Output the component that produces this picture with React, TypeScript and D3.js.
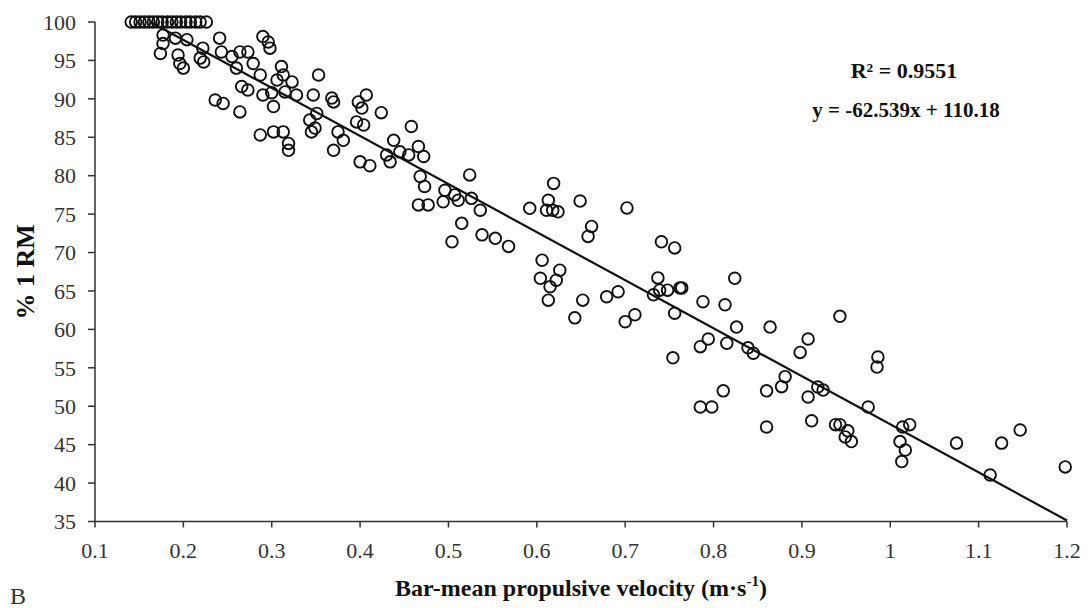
import React from "react";
import * as d3 from "d3";

// Bar-mean propulsive velocity (m/s) and %1RM
const topRowVelocity = [0.141, 0.146, 0.151, 0.156, 0.161, 0.166, 0.171, 0.176, 0.182, 0.187, 0.192, 0.197, 0.203, 0.208, 0.214, 0.219, 0.226];
const topRowPercent = topRowVelocity.map(() => 100);

const clusterVelocity = [0.177, 0.177, 0.191, 0.204, 0.174, 0.194, 0.196, 0.2, 0.222, 0.219, 0.223, 0.241, 0.243, 0.255, 0.26, 0.264, 0.273, 0.29, 0.296, 0.298, 0.279, 0.287, 0.266, 0.273, 0.29, 0.302, 0.311, 0.313, 0.306, 0.323, 0.315, 0.328, 0.347, 0.353, 0.368, 0.236, 0.245, 0.264, 0.3, 0.37, 0.398, 0.407, 0.402, 0.424, 0.343, 0.351, 0.349, 0.345, 0.287, 0.302, 0.313, 0.319, 0.319, 0.375, 0.381, 0.37, 0.396, 0.404, 0.4, 0.411, 0.458, 0.438, 0.43, 0.434, 0.445, 0.455, 0.466, 0.472];
const clusterPercent = [98.3, 97.2, 97.9, 97.7, 95.9, 95.7, 94.6, 94.0, 96.6, 95.3, 94.8, 97.9, 96.1, 95.5, 94.0, 96.1, 96.1, 98.1, 97.4, 96.6, 94.6, 93.1, 91.6, 91.15, 90.5, 89.0, 94.2, 93.1, 92.45, 92.2, 90.9, 90.5, 90.5, 93.1, 90.1, 89.85, 89.4, 88.3, 90.8, 89.6, 89.6, 90.5, 88.8, 88.2, 87.25, 88.1, 86.2, 85.7, 85.3, 85.7, 85.7, 84.2, 83.3, 85.7, 84.6, 83.3, 87.0, 86.6, 81.8, 81.3, 86.4, 84.6, 82.7, 81.8, 83.1, 82.7, 83.8, 82.5];

const midVelocity = [0.468, 0.473, 0.466, 0.477, 0.496, 0.507, 0.494, 0.511, 0.526, 0.536, 0.524, 0.515, 0.504, 0.538, 0.553, 0.568, 0.592, 0.619, 0.613, 0.611, 0.624, 0.618, 0.649, 0.702, 0.662, 0.658, 0.606, 0.626, 0.604, 0.622, 0.615, 0.613, 0.652, 0.679, 0.692, 0.643, 0.7, 0.711, 0.741, 0.756, 0.737, 0.739, 0.732, 0.748, 0.762, 0.764, 0.756, 0.754];
const midPercent = [79.9, 78.6, 76.2, 76.2, 78.1, 77.5, 76.6, 76.8, 77.05, 75.5, 80.1, 73.8, 71.4, 72.3, 71.85, 70.8, 75.75, 79.0, 76.8, 75.5, 75.3, 75.5, 76.7, 75.8, 73.4, 72.1, 69.0, 67.7, 66.65, 66.4, 65.55, 63.8, 63.8, 64.25, 64.9, 61.5, 61.0, 61.9, 71.4, 70.6, 66.7, 65.1, 64.5, 65.1, 65.4, 65.4, 62.1, 56.3];

const highVelocity = [0.824, 0.788, 0.813, 0.826, 0.864, 0.794, 0.785, 0.815, 0.839, 0.845, 0.943, 0.907, 0.898, 0.986, 0.985, 0.881, 0.877, 0.811, 0.798, 0.785, 0.86, 0.918, 0.924, 0.907, 0.975, 0.911, 0.86, 0.943, 0.938, 0.952, 0.949, 1.014, 1.022, 0.956, 1.011, 1.017, 1.013, 1.075, 1.113, 1.126, 1.147, 1.198];
const highPercent = [66.65, 63.6, 63.2, 60.3, 60.3, 58.75, 57.75, 58.2, 57.6, 56.9, 61.7, 58.75, 57.0, 56.4, 55.1, 53.85, 52.55, 52.0, 49.9, 49.9, 52.0, 52.5, 52.1, 51.2, 49.9, 48.1, 47.3, 47.6, 47.6, 46.8, 46.0, 47.3, 47.6, 45.4, 45.4, 44.3, 42.8, 45.2, 41.05, 45.2, 46.9, 42.1];

const xTicks = [0.1, 0.2, 0.3, 0.4, 0.5, 0.6, 0.7, 0.8, 0.9, 1.0, 1.1, 1.2];
const yTicks = [35, 40, 45, 50, 55, 60, 65, 70, 75, 80, 85, 90, 95, 100];
const slope = -62.539;
const intercept = 110.18;
const r2Label = "R² = 0.9551";
const eqLabel = "y = -62.539x + 110.18";

const W = 1089;
const H = 608;
const left = 95;
const right = 1067;
const top = 22;
const bottom = 521.5;

export default function App() {
  const x = d3.scaleLinear().domain([0.1, 1.2]).range([left, right]);
  const y = d3.scaleLinear().domain([35, 100]).range([bottom, top]);

  const vx = [...topRowVelocity, ...clusterVelocity, ...midVelocity, ...highVelocity];
  const vy = [...topRowPercent, ...clusterPercent, ...midPercent, ...highPercent];
  const points = vx.map((v, i) => [v, vy[i]] as [number, number]);

  const xStart = (100 - intercept) / slope;
  const line = d3.line<number>().x((d) => x(d)).y((d) => y(slope * d + intercept));
  const font = "'Liberation Serif', 'Times New Roman', serif";
  const fmt = (v: number) => String(Number(v.toFixed(1)));

  return (
    <div style={{ position: "absolute", left: 0, top: 0 }}>
      <svg width={W} height={H} style={{ display: "block", background: "#fff" }} fontFamily={font}>
        <rect width={W} height={H} fill="#fff" />
        {/* axes */}
        <line x1={left} x2={left} y1={top} y2={bottom} stroke="#333" strokeWidth={1.5} />
        <line x1={left} x2={right} y1={bottom} y2={bottom} stroke="#333" strokeWidth={1.5} />
        {yTicks.map((t) => (
          <g key={"y" + t}>
            <line x1={left - 7} x2={left} y1={y(t)} y2={y(t)} stroke="#333" strokeWidth={1.5} />
            <text x={76} y={y(t)} dy="0.35em" textAnchor="end" fontSize={22} fill="#333">
              {t}
            </text>
          </g>
        ))}
        {xTicks.map((t) => (
          <g key={"x" + t}>
            <line x1={x(t)} x2={x(t)} y1={bottom} y2={bottom + 6} stroke="#333" strokeWidth={1.5} />
            <text x={x(t)} y={558} textAnchor="middle" fontSize={22} fill="#333">
              {fmt(t)}
            </text>
          </g>
        ))}
        {/* points */}
        {points.map((p, i) => (
          <circle key={i} cx={x(p[0])} cy={y(p[1])} r={5.8} fill="none" stroke="#111" strokeWidth={1.9} />
        ))}
        {/* trend line */}
        <path d={line([xStart, 1.2]) || ""} fill="none" stroke="#111" strokeWidth={2.2} />
        {/* annotation */}
        <text x={904} y={78} textAnchor="middle" fontSize={22} fontWeight="bold" fill="#111">
          {r2Label}
        </text>
        <text x={906} y={117} textAnchor="middle" fontSize={21} fontWeight="bold" fill="#111">
          {eqLabel}
        </text>
        {/* axis titles */}
        <text
          transform={`translate(34, ${(top + bottom) / 2}) rotate(-90)`}
          textAnchor="middle"
          fontSize={26}
          fontWeight="bold"
          fill="#111"
        >
          % 1 RM
        </text>
        <text x={581} y={596} textAnchor="middle" fontSize={24} fontWeight="bold" fill="#111">
          Bar-mean propulsive velocity (m·s
          <tspan fontSize={15} dy={-10}>-1</tspan>
          <tspan dy={10}>)</tspan>
        </text>
        <text x={10} y={604} fontSize={24} fill="#333">
          B
        </text>
      </svg>
    </div>
  );
}
